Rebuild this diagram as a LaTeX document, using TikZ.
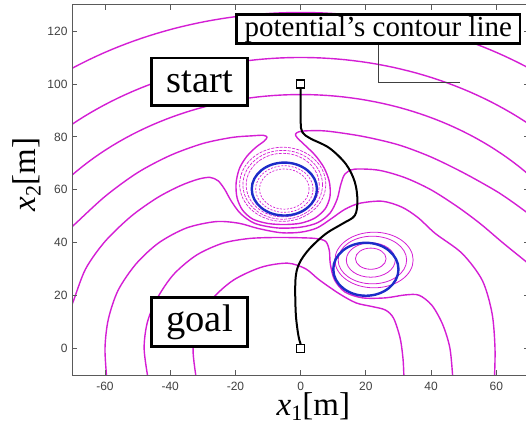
\documentclass[tikz,border=0pt]{standalone}
\usepackage{fontspec}
\setmainfont{Liberation Serif}
\newfontfamily\ticksans{Liberation Sans}
\usepackage{tikz}
\definecolor{mag}{HTML}{D41ED4}
\definecolor{obst}{HTML}{1C2CC8}
\definecolor{axisgray}{HTML}{5A5A5A}

\begin{document}
\begin{tikzpicture}[
  x=1pt, y=1pt,
  contour/.style={mag, line width=1.4pt, line join=round},
  loopline/.style={mag, line width=0.7pt, dash pattern=on 3pt off 1.2pt},
  innerloop/.style={mag, line width=0.8pt},
  obstacle/.style={obst, line width=2.4pt},
  route/.style={black, line width=2pt, line join=round},
  marker/.style={draw, fill=white, line width=1.3pt, minimum size=8pt, inner sep=0pt},
  lbox/.style={draw, fill=white, line width=2.6pt, inner sep=0pt, align=center},
  leader/.style={black!75, line width=0.8pt},
  tick/.style={axisgray, line width=0.8pt},
  ticklabel/.style={font=\ticksans\fontsize{12}{12}\selectfont, text=black!75, inner sep=0pt}
]
\useasboundingbox (0,0) rectangle (526,426);
\begin{scope}[shift={(300.65pt,77.3pt)}, x=3.261pt, y=2.6475pt]
  \coordinate (obst1) at (-5,60.3);
  \coordinate (obst2) at (20,30);

  % potential's contour lines
  \begin{scope}
    \clip (-70,-10) rectangle (70,130);
    \foreach \rr/\angA/\angB in {127/50/130, 110/45/135, 96/40/140}
      \draw[contour] plot[domain=\angA:\angB, samples=70] ({\rr*cos(\x)},{\rr*sin(\x)});
    % level 84, wraps round obstacle 1
    \draw[contour] plot[smooth, tension=0.5] coordinates {
      (-72,44.5) (-70,46.2) (-60,57.5) (-50,66.5) (-40,73) (-30,77.5) (-21,79.8) (-15,80.4)
      (-11.5,80.6) (-10.3,79.9) (-11.2,78.4) (-13.8,76) (-16.6,72.5) (-18.8,68) (-19.8,62.5)
      (-19.5,57) (-17.8,52.3) (-14.6,48.9) (-10,47.3) (-5,46.9) (0,47.4) (4.3,49.3) (7.5,52.8)
      (9,57.5) (8.8,63) (7.2,68.3) (4.5,73) (1.2,77) (-1,79.6) (-1.6,81) (-0.6,81.9) (2,82.3)
      (8,82.2) (19,80.2) (30,77) (40,72.4) (50,66.4) (60,59.5) (66,54.5) (72,49)};
    % level 72
    \draw[contour] plot[smooth, tension=0.5] coordinates {
      (-72,12) (-70,17) (-66,30) (-60,40.5) (-52,50) (-44,57) (-37,61.5) (-31.5,64)
      (-27.8,64.7) (-25.3,63.4) (-23.3,60.2) (-21.3,55.8) (-18.4,51) (-14,47.3) (-7,45.6)
      (0,45.9) (5.2,47.6) (9,51.2) (11.2,56.5) (12.3,62) (13.6,66) (16.5,67.8) (24,67.4)
      (32,64.6) (40,60) (48,53.7) (55,47.3) (62,40) (68,34) (72,30)};
    % level 60
    \draw[contour] plot[smooth, tension=0.5] coordinates {
      (-59.4,-12) (-60,0) (-59,11) (-56,22) (-50.5,32) (-43.5,40) (-35,45.6) (-26,48)
      (-19,47.4) (-13,45.4) (-6,43.8) (0,44) (5,45.6) (9.5,49.2) (13.5,52.6) (18,54.9)
      (25,55.7) (31,53.5) (36,49.5) (41.3,43.5) (49.5,36) (55.7,25.8) (58.7,13.3) (59.6,0)
      (59.4,-12)};
    % level 48, wraps round obstacle 2
    \draw[contour] plot[smooth, tension=0.5] coordinates {
      (-46.7,-12) (-48,0) (-47,10) (-44,19) (-39,28) (-32,35.3) (-24,39.8) (-16,41.6)
      (-8,42) (0,41.9) (4.8,41.6) (7.7,40.5) (8.8,37) (9.1,32) (10.4,26) (13.6,21.4)
      (19,19.2) (26,19.2) (32,20.3) (36.3,20.2) (40.3,16.3) (43.6,9) (45.8,0) (46.7,-12)};
    % level 33
    \draw[contour] plot[smooth, tension=0.5] coordinates {
      (-31.9,-12) (-33,0) (-31.2,11) (-27,19) (-20.5,26) (-12,30.8) (-4,32.3) (1.5,30.2)
      (5.7,26) (11.8,20.8) (17,17.3) (22,15.9) (26,14.6) (28.5,11.5) (30.5,4) (31.4,-4)
      (31.7,-12)};
  \end{scope}

  % loops round the obstacles
  \foreach \rx/\ry/\cy in {11.2/12/61.8, 12.2/13/61.9, 13.2/14/62.1}
    \draw[loopline] (-5.5,\cy) ellipse[x radius=\rx, y radius=\ry];
  \foreach \r in {8.8,7.6}
    \draw[loopline, dash pattern=on 2pt off 1.5pt] (obst1) circle[radius=\r];
  \foreach \cx/\cy/\rx/\ry in {22.5/33.5/12/10.5, 22/33.5/10.5/9, 21.5/33.5/7.5/6.5, 21.5/34/4.7/4}
    \draw[innerloop] (\cx,\cy) ellipse[x radius=\rx, y radius=\ry];

  % obstacles
  \draw[obstacle] (obst1) circle[radius=10];
  \draw[obstacle] (obst2) circle[radius=10];

  % route from start to goal
  \node[marker] (startpt) at (0,100) {};
  \node[marker] (goalpt) at (0,0) {};
  \draw[route] plot[smooth, tension=0.55] coordinates {
    (startpt.south) (0,86) (0.5,81.8) (3,79.4) (8.8,75.8) (13.9,69.7) (16.6,63) (17.4,56)
    (16.6,50.3) (12.8,47.2) (7.7,43.4) (2.6,37.6) (-0.5,32) (-1.6,25.9) (-1.5,13.4)
    (-0.7,5) (goalpt.north)};

  % axes
  \draw[axisgray, line width=0.9pt] (-70,-10) rectangle (70,130);
  \foreach \v [count=\i] in {-60,-40,...,60} {
    \draw[tick] (\v,-10) -- ++(0,1.9) (\v,130) -- ++(0,-1.9);
    \node[ticklabel, anchor=north, yshift=-6.5pt] (xt\i) at (\v,-10) {\v};
  }
  \foreach \v [count=\i] in {0,20,...,120} {
    \draw[tick] (-70,\v) -- ++(1.5,0) (70,\v) -- ++(-1.5,0);
    \node[ticklabel, anchor=east, xshift=-4.7pt] (yt\i) at (-70,\v) {\v};
  }
  \node[inner sep=0pt, font=\fontsize{33}{35}\selectfont] (xlab) at (3.9,-22) 
    {\textit{x}\raisebox{-5pt}{\fontsize{22}{22}\selectfont 1}[m]};
  \node[inner sep=0pt, rotate=90, font=\fontsize{33}{35}\selectfont] (ylab) at (-84,65.8)
    {\textit{x}\raisebox{-5pt}{\fontsize{22}{22}\selectfont 2}[m]};

  % labels
  \node[lbox, minimum width=96pt, minimum height=47.5pt, font=\fontsize{38.5}{40}\selectfont] (startlbl) at (-31,100.8) {start};
  \node[lbox, minimum width=96pt, minimum height=49pt, font=\fontsize{38.5}{40}\selectfont] (goallbl) at (-31,10) {goal};
  \node[lbox, minimum width=283.5pt, minimum height=29pt, font=\fontsize{29}{30}\selectfont] (pcl) at (23.8,120.7) {potential's contour line};
  \coordinate (leadend) at (48.8,100.4);
  \draw[leader] (pcl.south) |- (leadend);
\end{scope}
\end{tikzpicture}
\end{document}
